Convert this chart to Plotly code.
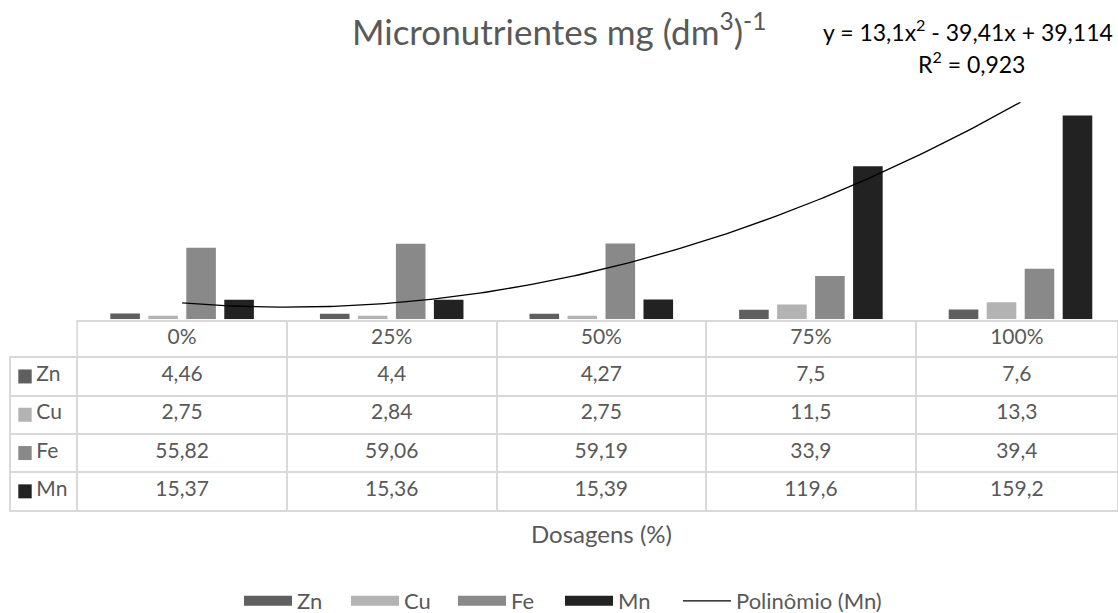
import numpy as np
import plotly.graph_objects as go

# ---------------- data ----------------
categories = ["0%", "25%", "50%", "75%", "100%"]
series_names = ["Zn", "Cu", "Fe", "Mn"]
zn = [4.46, 4.4, 4.27, 7.5, 7.6]
cu = [2.75, 2.84, 2.75, 11.5, 13.3]
fe = [55.82, 59.06, 59.19, 33.9, 39.4]
mn = [15.37, 15.36, 15.39, 119.6, 159.2]
series_values = [zn, cu, fe, mn]
series_colors = ["#5f5f5f", "#b3b3b3", "#898989", "#222222"]

title_text = "Micronutrientes mg (dm<sup>3</sup>)<sup>-1</sup>"
equation_text = "y = 13,1x<sup>2</sup> - 39,41x + 39,114"
r2_text = "R<sup>2</sup> = 0,923"
x_title = "Dosagens (%)"
trend_name = "Polinômio (Mn)"

# ---------------- layout helpers ----------------
W, H = 1118, 613
FONT = "Lato"
TXT = "#595959"
GRID = "#d9d9d9"


def px(x):
    return x / W


def py(y):
    return 1 - y / H


col_w = 209.6
plot_left = 77.3
x_right = -0.5 + (W - plot_left) / col_w
baseline = 319.3
y_max = 200
y_top = baseline - 1.28 * y_max

tbl_top = 320.7
hdr_h = 36.6
row_h = 38.3

xpos = list(range(len(categories)))

fig = go.Figure()

for name, vals, color in zip(series_names, series_values, series_colors):
    fig.add_trace(go.Bar(
        x=xpos, y=vals, name=name, legendgroup=name, showlegend=False,
        marker=dict(color=color, line=dict(width=0)),
        hoverinfo="y+name",
    ))

# legend entries drawn as wide blocks (like the spreadsheet legend)
for name, color in zip(series_names, series_colors):
    fig.add_trace(go.Scatter(
        x=[None], y=[None], mode="lines", name=name, legendgroup=name,
        line=dict(color=color, width=14), hoverinfo="skip", legend="legend",
    ))

# polynomial (order 2) trendline of Mn, like the spreadsheet trendline
coef = np.polyfit(np.arange(1, len(mn) + 1), mn, 2)
xs = np.linspace(0, len(mn) - 1, 200)
ys = np.polyval(coef, xs + 1)
fig.add_trace(go.Scatter(
    x=xs, y=ys, mode="lines", name=trend_name,
    line=dict(color="#000000", width=1.3),
    hoverinfo="skip", legend="legend2",
))


def fmt(v):
    return ("%g" % v).replace(".", ",")


label_col = ["\u2003\u2009" + n for n in series_names]
value_cols = [[fmt(s[i]) for s in series_values] for i in range(len(categories))]

fig.add_trace(go.Table(
    domain=dict(x=[px(10), 1], y=[py(tbl_top + hdr_h + 4 * row_h + 6), py(tbl_top)]),
    columnwidth=[67.3] + [col_w] * 4 + [W - (plot_left + 4 * col_w)],
    header=dict(
        values=[""] + categories,
        height=hdr_h,
        align="center",
        fill=dict(color=["rgba(0,0,0,0)"] + ["white"] * 5),
        line=dict(color=GRID, width=[0] + [2] * 5),
        font=dict(family=FONT, size=21, color=TXT),
    ),
    cells=dict(
        values=[label_col] + value_cols,
        height=row_h,
        align=["left"] + ["center"] * 5,
        fill=dict(color="rgba(0,0,0,0)"),
        line=dict(color=GRID, width=2),
        font=dict(family=FONT, size=21, color=TXT),
    ),
))

# colour keys in the table's row-label column
shapes = []
for i, color in enumerate(series_colors):
    cy = tbl_top + hdr_h + row_h * (i + 0.5)
    shapes.append(dict(type="rect", xref="paper", yref="paper",
                       x0=px(18.3), x1=px(31.7), y0=py(cy + 7), y1=py(cy - 7),
                       fillcolor=color, line=dict(width=0)))

fig.update_layout(
    width=W, height=H,
    margin=dict(l=0, r=0, t=0, b=0, autoexpand=False),
    paper_bgcolor="white", plot_bgcolor="white",
    barmode="group", bargap=0.275, bargroupgap=0.221,
    font=dict(family=FONT, color=TXT),
    xaxis=dict(domain=[px(plot_left), 1], range=[-0.5, x_right],
               showticklabels=False, showgrid=False, zeroline=False,
               showline=False, ticks=""),
    yaxis=dict(domain=[py(baseline), py(y_top)], range=[0, y_max],
               showticklabels=False, showgrid=False, zeroline=False,
               showline=False, ticks=""),
    showlegend=True,
    legend=dict(orientation="h", x=px(239), xanchor="left",
                y=py(601), yanchor="middle", itemwidth=48,
                entrywidth=44, entrywidthmode="pixels",
                font=dict(family=FONT, size=22, color=TXT),
                bgcolor="rgba(0,0,0,0)"),
    legend2=dict(orientation="h", x=px(678), xanchor="left",
                 y=py(601), yanchor="middle", itemwidth=48,
                 font=dict(family=FONT, size=22, color=TXT),
                 bgcolor="rgba(0,0,0,0)"),
    shapes=shapes,
    annotations=[
        dict(text=title_text, x=0.5, y=py(29), xref="paper", yref="paper",
             xanchor="center", yanchor="middle", showarrow=False,
             font=dict(family=FONT, size=35, color=TXT)),
        dict(text=equation_text, x=px(968), y=py(31), xref="paper", yref="paper",
             xanchor="center", yanchor="middle", showarrow=False,
             font=dict(family=FONT, size=23, color="#000000")),
        dict(text=r2_text, x=px(971), y=py(63), xref="paper", yref="paper",
             xanchor="center", yanchor="middle", showarrow=False,
             font=dict(family=FONT, size=23, color="#000000")),
        dict(text=x_title, x=px(601), y=py(533), xref="paper", yref="paper",
             xanchor="center", yanchor="middle", showarrow=False,
             font=dict(family=FONT, size=24, color=TXT)),
    ],
)

fig.write_html(
    "out.html",
    config={"displayModeBar": False},
    post_script="document.body.style.margin='0';document.body.style.overflow='hidden';",
)
